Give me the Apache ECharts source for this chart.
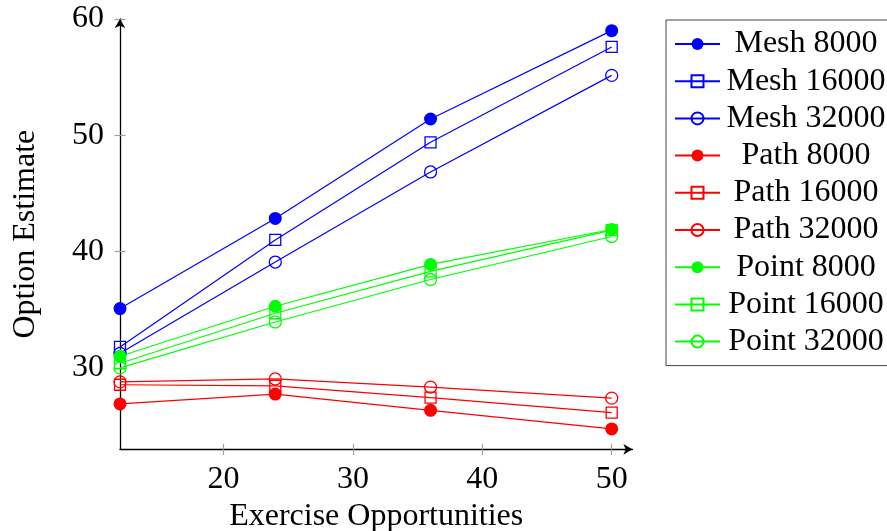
<!DOCTYPE html>
<html>
<head>
<meta charset="utf-8">
<script src="https://cdn.jsdelivr.net/npm/echarts@6/dist/echarts.min.js"></script>
<style>
  html, body { margin: 0; padding: 0; background: #fff; }
  #chart { width: 887px; height: 531px; }
</style>
</head>
<body>
<div id="chart"></div>
<script>
// Exercise opportunities on the x axis
const exercise = [12, 24, 36, 50];
const xTicks = [20, 30, 40, 50];
const yTicks = [30, 40, 50, 60];

// Option estimates per method and number of paths
const mesh8000   = [35.1, 42.85, 51.4, 59.0];
const mesh16000  = [31.8, 41.0, 49.4, 57.6];
const mesh32000  = [31.25, 39.1, 46.85, 55.15];
const path8000   = [26.9, 27.75, 26.35, 24.75];
const path16000  = [28.55, 28.45, 27.45, 26.15];
const path32000  = [28.8, 29.05, 28.35, 27.4];
const point8000  = [31.0, 35.3, 38.9, 41.9];
const point16000 = [30.4, 34.7, 38.3, 41.85];
const point32000 = [30.0, 33.95, 37.6, 41.3];

const FONT = 'Liberation Serif';
const FS = 32;
const BLUE = '#0000ff', RED = '#ff0000', GREEN = '#00ff00';

const seriesDefs = [
  { name: 'Mesh 8000',   values: mesh8000,   color: BLUE,  mark: 'dot' },
  { name: 'Mesh 16000',  values: mesh16000,  color: BLUE,  mark: 'square' },
  { name: 'Mesh 32000',  values: mesh32000,  color: BLUE,  mark: 'ring' },
  { name: 'Path 8000',   values: path8000,   color: RED,   mark: 'dot' },
  { name: 'Path 16000',  values: path16000,  color: RED,   mark: 'square' },
  { name: 'Path 32000',  values: path32000,  color: RED,   mark: 'ring' },
  { name: 'Point 8000',  values: point8000,  color: GREEN, mark: 'dot' },
  { name: 'Point 16000', values: point16000, color: GREEN, mark: 'square' },
  { name: 'Point 32000', values: point32000, color: GREEN, mark: 'ring' }
];

function markerStyle(mark, color) {
  if (mark === 'dot') {
    return { symbol: 'circle', symbolSize: 13, itemStyle: { color: color, borderWidth: 0 } };
  }
  return {
    symbol: mark === 'square' ? 'rect' : 'circle',
    symbolSize: mark === 'square' ? 11 : 12,
    itemStyle: { color: 'rgba(255,255,255,0)', borderColor: color, borderWidth: 1.3 }
  };
}

const series = seriesDefs.map(d => Object.assign({
  name: d.name,
  type: 'line',
  xAxisIndex: 0,
  yAxisIndex: 0,
  data: exercise.map((x, i) => [x, d.values[i]]),
  showAllSymbol: true,
  lineStyle: { color: d.color, width: 1.2 },
  emphasis: { disabled: true },
  animation: false
}, markerStyle(d.mark, d.color)));

const X_MIN = 12, X_MAX = 51.6, Y_MIN = 23, Y_MAX = 60;
const tickGrey = '#a0a0a0';

const chart = echarts.init(document.getElementById('chart'), null, { renderer: 'canvas' });
chart.setOption({
  animation: false,
  backgroundColor: '#ffffff',
  textStyle: { fontFamily: FONT, color: '#000' },
  grid: { left: 120, top: 19, right: 254.6, bottom: 81.7, containLabel: false, outerBoundsMode: 'none' },
  xAxis: [
    {
      type: 'value', min: X_MIN, max: X_MAX, position: 'bottom',
      name: 'Exercise Opportunities', nameLocation: 'middle', nameGap: 41,
      nameTextStyle: { fontFamily: FONT, fontSize: FS, color: '#000' },
      axisLine: { show: true, lineStyle: { color: '#000', width: 1.3 }, symbol: ['none', 'arrow'], symbolSize: [8, 9] },
      axisTick: { show: true, length: 5.5, inside: false, customValues: xTicks, lineStyle: { color: tickGrey, width: 1.2 } },
      axisLabel: { show: true, customValues: xTicks, margin: 14, fontFamily: FONT, fontSize: FS, color: '#000' },
      splitLine: { show: false }
    },
    {
      type: 'value', min: X_MIN, max: X_MAX, position: 'bottom',
      axisLine: { show: false },
      axisTick: { show: true, length: 5.5, inside: true, customValues: xTicks, lineStyle: { color: tickGrey, width: 1.2 } },
      axisLabel: { show: false },
      splitLine: { show: false }
    }
  ],
  yAxis: [
    {
      type: 'value', min: Y_MIN, max: Y_MAX, position: 'left',
      name: 'Option Estimate', nameLocation: 'middle', nameGap: 78,
      nameTextStyle: { fontFamily: FONT, fontSize: FS, color: '#000' },
      axisLine: { show: true, lineStyle: { color: '#000', width: 1.3 }, symbol: ['none', 'arrow'], symbolSize: [8, 9] },
      axisTick: { show: true, length: 5.5, inside: false, customValues: yTicks, lineStyle: { color: tickGrey, width: 1.2 } },
      axisLabel: { show: true, customValues: yTicks, margin: 16, fontFamily: FONT, fontSize: FS, color: '#000' },
      splitLine: { show: false }
    },
    {
      type: 'value', min: Y_MIN, max: Y_MAX, position: 'left',
      axisLine: { show: false },
      axisTick: { show: true, length: 5.5, inside: true, customValues: yTicks, lineStyle: { color: tickGrey, width: 1.2 } },
      axisLabel: { show: false },
      splitLine: { show: false }
    }
  ],
  legend: {
    orient: 'vertical',
    left: 666, top: 20,
    padding: [8, 1, 8, 8],
    itemWidth: 45, itemHeight: 15, itemGap: 5.2, itemTextGap: 4,
    backgroundColor: '#fff',
    borderColor: '#444', borderWidth: 1, borderRadius: 0,
    selectedMode: false,
    data: seriesDefs.map(d => d.name),
    formatter: name => '{t|' + name + '}',
    textStyle: {
      fontFamily: FONT, fontSize: FS, color: '#000',
      rich: { t: { width: 162, align: 'center', fontFamily: FONT, fontSize: FS, lineHeight: 30, color: '#000' } }
    }
  },
  series: series
});
</script>
</body>
</html>
